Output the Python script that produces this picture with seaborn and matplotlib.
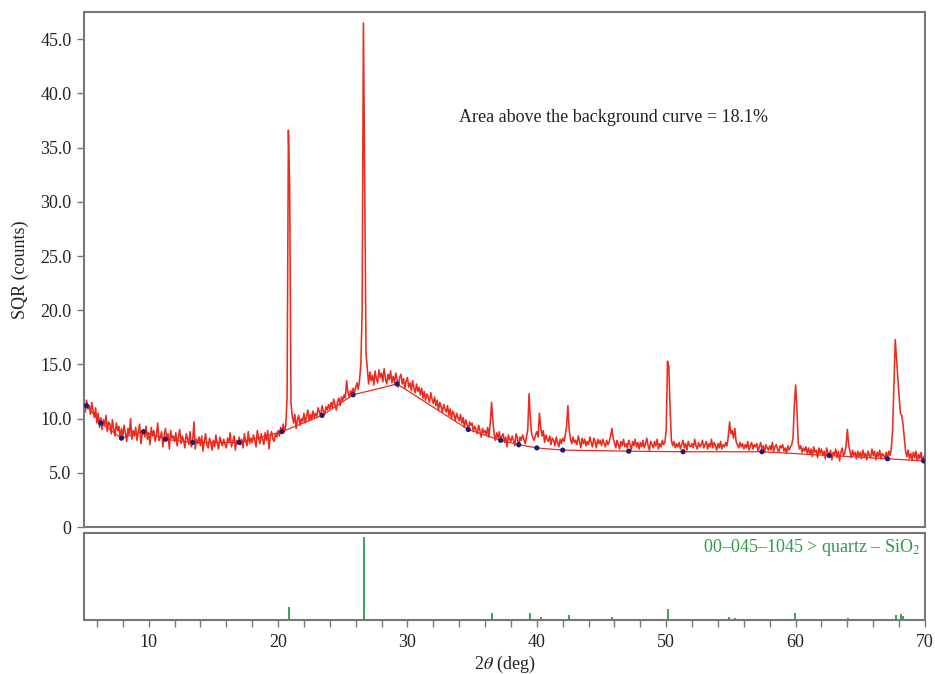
import numpy as np
import pandas as pd
import seaborn as sns
import matplotlib.pyplot as plt
from matplotlib.ticker import MultipleLocator, FuncFormatter

# measured pattern, 0.1 deg steps from 5.0 to 70.0 (one row per degree)
start_deg = 5.0
step_deg = 0.1
count_rows = [
    [11.3, 10.6, 11.7, 10.9, 11.2, 10.4, 11.5, 10.8, 10.1, 11.0],  # 5
    [9.6, 10.5, 9.2, 10.1, 9.0, 9.9, 9.4, 10.3, 8.8, 9.7],
    [9.5, 8.6, 9.9, 9.0, 8.4, 9.6, 8.9, 9.3, 8.2, 9.1],
    [8.3, 9.4, 8.7, 7.9, 9.1, 8.5, 10.0, 8.1, 8.9, 8.4],
    [9.2, 8.0, 8.8, 9.5, 7.7, 8.6, 9.0, 8.3, 9.3, 8.1],
    [8.7, 7.6, 9.2, 8.4, 8.9, 7.9, 8.5, 9.6, 8.0, 8.3],  # 10
    [8.8, 7.4, 8.5, 9.1, 8.0, 8.6, 7.2, 8.9, 8.2, 8.4],
    [7.9, 8.7, 7.5, 8.3, 9.0, 7.7, 8.4, 8.0, 7.3, 8.6],
    [8.2, 7.6, 8.8, 7.4, 7.9, 9.7, 7.2, 8.1, 7.7, 8.3],
    [7.5, 8.4, 7.0, 7.9, 8.6, 7.6, 7.3, 8.2, 7.8, 7.1],
    [8.0, 7.4, 8.5, 7.7, 7.2, 8.3, 7.9, 7.5, 8.1, 7.6],  # 15
    [7.3, 8.2, 7.8, 8.7, 7.4, 7.9, 8.4, 7.1, 8.0, 7.7],
    [8.3, 7.6, 8.1, 7.3, 8.6, 7.9, 7.5, 8.8, 7.7, 8.2],
    [7.8, 8.5, 8.0, 7.4, 8.9, 8.2, 7.7, 8.6, 8.1, 7.6],
    [8.7, 8.0, 8.9, 7.2, 8.4, 8.8, 8.1, 7.9, 8.6, 8.3],
    [8.9, 8.4, 9.2, 8.7, 9.5, 8.8, 9.4, 12.0, 36.6, 31.2],  # 20
    [11.4, 10.2, 9.6, 10.4, 9.1, 9.9, 10.3, 9.4, 10.0, 9.7],
    [10.5, 9.6, 10.2, 10.8, 9.8, 10.4, 9.9, 10.7, 10.1, 10.5],
    [10.2, 11.0, 10.6, 10.3, 11.2, 10.7, 10.4, 11.1, 10.8, 11.3],
    [10.9, 11.5, 11.0, 11.8, 11.3, 10.8, 11.6, 11.9, 11.2, 12.0],
    [11.7, 12.2, 11.9, 13.5, 12.4, 12.0, 12.6, 12.2, 12.8, 12.4],  # 25
    [12.9, 13.3, 12.7, 13.6, 15.0, 20.0, 46.5, 30.8, 16.0, 14.6],
    [13.2, 14.3, 13.5, 14.0, 13.1, 14.4, 13.7, 13.3, 14.5, 13.8],
    [14.2, 13.4, 14.6, 13.7, 13.2, 14.1, 13.6, 14.4, 13.3, 13.9],
    [13.3, 14.2, 13.6, 12.9, 13.8, 14.1, 13.2, 13.7, 12.8, 13.5],
    [13.8, 12.9, 13.3, 12.6, 13.5, 12.8, 12.4, 13.2, 12.5, 12.9],  # 30
    [12.2, 12.8, 11.9, 12.5, 11.7, 12.3, 12.0, 11.5, 12.4, 11.8],
    [11.4, 12.0, 11.2, 11.7, 10.8, 11.5, 11.1, 10.6, 11.3, 10.9],
    [10.6, 11.2, 10.3, 10.9, 10.0, 10.7, 10.4, 9.8, 10.5, 10.1],
    [9.8, 10.4, 9.6, 10.1, 9.2, 9.9, 9.5, 8.9, 9.7, 9.4],
    [9.6, 8.8, 9.3, 9.0, 8.6, 9.4, 8.9, 8.3, 9.1, 8.7],  # 35
    [8.9, 8.5, 9.2, 8.3, 9.6, 11.5, 9.8, 8.6, 8.0, 8.7],
    [8.2, 8.8, 7.9, 8.4, 8.6, 7.8, 8.3, 7.4, 8.5, 8.1],
    [7.9, 8.4, 8.0, 7.5, 8.6, 8.2, 7.4, 8.3, 8.0, 8.5],
    [8.1, 7.7, 8.3, 9.0, 12.3, 10.0, 8.6, 8.2, 8.0, 8.5],
    [8.8, 8.3, 10.5, 9.2, 8.4, 8.9, 7.8, 8.5, 8.1, 7.9],  # 40
    [8.4, 7.6, 8.2, 8.0, 7.5, 8.3, 7.8, 7.4, 8.1, 7.7],
    [8.2, 7.9, 8.5, 9.3, 11.2, 9.0, 8.1, 7.7, 8.3, 7.8],
    [8.0, 7.6, 8.4, 7.9, 7.3, 8.2, 7.7, 8.1, 7.5, 7.9],
    [7.6, 8.3, 7.8, 7.4, 8.2, 7.9, 7.3, 8.1, 7.7, 8.0],
    [7.5, 8.1, 7.7, 7.4, 8.0, 7.6, 7.9, 8.4, 9.1, 8.2],  # 45
    [7.8, 7.3, 8.0, 7.6, 7.2, 7.9, 7.5, 8.1, 7.4, 7.7],
    [7.3, 8.0, 7.6, 7.1, 7.9, 7.5, 8.1, 7.4, 7.8, 7.2],
    [7.8, 7.4, 8.0, 7.3, 7.7, 8.2, 7.5, 7.1, 7.9, 7.6],
    [7.3, 7.9, 7.5, 8.1, 7.2, 7.7, 7.4, 8.0, 7.6, 7.8],
    [9.0, 15.3, 14.8, 11.0, 8.0, 7.5, 7.9, 7.3, 7.7, 7.4],  # 50
    [7.8, 7.2, 7.6, 8.0, 7.3, 7.7, 7.1, 7.9, 7.5, 7.4],
    [7.7, 7.3, 8.1, 7.5, 7.2, 7.8, 7.4, 7.6, 8.0, 7.3],
    [7.6, 7.9, 7.2, 7.7, 7.4, 8.1, 7.3, 7.8, 7.5, 7.1],
    [7.7, 7.3, 7.9, 7.2, 7.6, 7.4, 7.8, 7.5, 8.4, 9.7],
    [8.6, 8.9, 8.2, 9.1, 7.9, 7.6, 7.3, 7.8, 7.4, 7.7],  # 55
    [7.2, 7.6, 7.3, 7.9, 7.1, 7.5, 7.8, 7.2, 7.6, 7.4],
    [7.7, 7.0, 7.4, 7.8, 7.2, 7.5, 6.9, 7.6, 7.3, 7.1],
    [7.5, 7.1, 7.8, 7.0, 7.4, 7.6, 7.2, 6.9, 7.5, 7.3],
    [7.6, 7.0, 7.3, 6.8, 7.5, 7.1, 7.4, 7.6, 8.2, 11.2],
    [13.1, 11.0, 7.8, 7.2, 7.5, 6.9, 7.3, 7.0, 7.4, 6.8],  # 60
    [7.3, 6.7, 7.2, 6.5, 7.4, 6.9, 7.1, 6.4, 7.3, 6.8],
    [7.2, 6.6, 7.0, 6.3, 7.3, 6.8, 6.5, 7.1, 6.2, 6.9],
    [6.7, 7.2, 6.4, 7.0, 6.1, 6.9, 7.3, 6.6, 6.8, 7.5],
    [9.0, 7.6, 7.0, 6.4, 7.1, 6.6, 6.9, 6.3, 7.0, 6.5],
    [6.9, 6.3, 7.1, 6.5, 6.8, 6.2, 7.0, 6.6, 6.4, 7.2],  # 65
    [6.6, 7.0, 6.2, 6.9, 6.5, 7.1, 6.3, 6.8, 6.6, 6.4],
    [6.9, 6.3, 7.0, 6.6, 7.3, 9.0, 13.0, 17.3, 15.5, 13.7],
    [12.0, 10.5, 10.3, 9.5, 8.2, 7.0, 6.5, 7.1, 6.3, 6.8],
    [6.2, 6.9, 6.4, 7.0, 6.1, 6.7, 6.3, 6.9, 6.0, 6.5],
    [6.4],  # 70
]

# fitted background points
bg_x = [5.2, 6.3, 7.9, 9.6, 11.3, 13.4, 17.0, 20.3, 23.4, 25.8, 29.2,
        34.7, 37.2, 38.6, 40.0, 42.0, 47.1, 51.3, 57.4, 62.6, 67.1, 69.9]
bg_y = [11.2, 9.6, 8.2, 8.8, 8.1, 7.8, 7.8, 8.8, 10.3, 12.2, 13.2,
        9.0, 8.0, 7.6, 7.3, 7.1, 7.0, 6.95, 6.95, 6.6, 6.3, 6.1]

# reference card 00-045-1045 quartz
ref_pos = [20.86, 26.64, 36.54, 39.47, 40.29, 42.45, 45.79, 50.14,
           54.87, 55.33, 59.96, 64.03, 67.74, 68.14, 68.31]
ref_int = [16, 100, 9, 8, 4, 6, 4, 13, 4, 2, 9, 2, 6, 7, 5]

counts = [v for row in count_rows for v in row]
two_theta = np.round(start_deg + step_deg * np.arange(len(counts)), 2)
df = pd.DataFrame({"two_theta": two_theta, "counts": counts})
bg = pd.DataFrame({"two_theta": bg_x, "counts": bg_y})

sns.set_theme(style="white")
plt.rcParams["font.family"] = ["Liberation Serif", "DejaVu Serif"]
plt.rcParams["mathtext.fontset"] = "stix"

red = "#ec2a1e"
green = "#2e9a4a"
frame = "#777777"
ink = "#222222"
fs = 13

fig = plt.figure(figsize=(9.35, 6.74), dpi=100)
ax = fig.add_axes([0.0898, 0.218, 0.8995, 0.764])
ax2 = fig.add_axes([0.0898, 0.080, 0.8995, 0.129])

sns.lineplot(data=df, x="two_theta", y="counts", ax=ax, color=red,
             linewidth=1.15, estimator=None)
sns.lineplot(data=bg, x="two_theta", y="counts", ax=ax, color=red,
             linewidth=0.9, estimator=None)
sns.scatterplot(data=bg, x="two_theta", y="counts", ax=ax, color="#1c1c78",
                s=14, edgecolor="none", zorder=5)

ax.set_xlim(5, 70)
ax.set_ylim(0, 47.5)
ax.set_xticks([])
ax.set_yticks(np.arange(0, 50, 5))
ax.yaxis.set_major_formatter(FuncFormatter(lambda v, p: "0" if v == 0 else f"{v:.1f}"))
ax.tick_params(axis="y", left=True, length=5, width=1, color=frame,
               labelsize=fs, labelcolor=ink, pad=4)
ax.set_xlabel("")
ax.set_ylabel("SQR (counts)", fontsize=fs, color=ink, labelpad=8)
ax.text(34.0, 37.8, "Area above the background curve = 18.1%",
        fontsize=fs, color=ink, va="center")

ax2.vlines(ref_pos, 0, ref_int, color=green, linewidth=1.3)
ax2.set_xlim(5, 70)
ax2.set_ylim(0, 105)
ax2.set_yticks([])
ax2.xaxis.set_major_locator(MultipleLocator(10))
ax2.xaxis.set_minor_locator(MultipleLocator(2))
ax2.tick_params(axis="x", which="both", bottom=True, length=5, width=1,
                color=frame, labelsize=fs, labelcolor=ink, pad=5)
ax2.set_xlabel(r"2$\theta$ (deg)", fontsize=fs, color=ink, labelpad=2)
ax2.text(0.995, 0.84, "00\u2013045\u20131045 > quartz \u2013 SiO$_2$",
         transform=ax2.transAxes, ha="right", va="center",
         fontsize=fs, color=green)

for a in (ax, ax2):
    for s in a.spines.values():
        s.set_color(frame)
        s.set_linewidth(1.5)
        s.set_visible(True)

fig.savefig("out.png", dpi=100, facecolor="white")
